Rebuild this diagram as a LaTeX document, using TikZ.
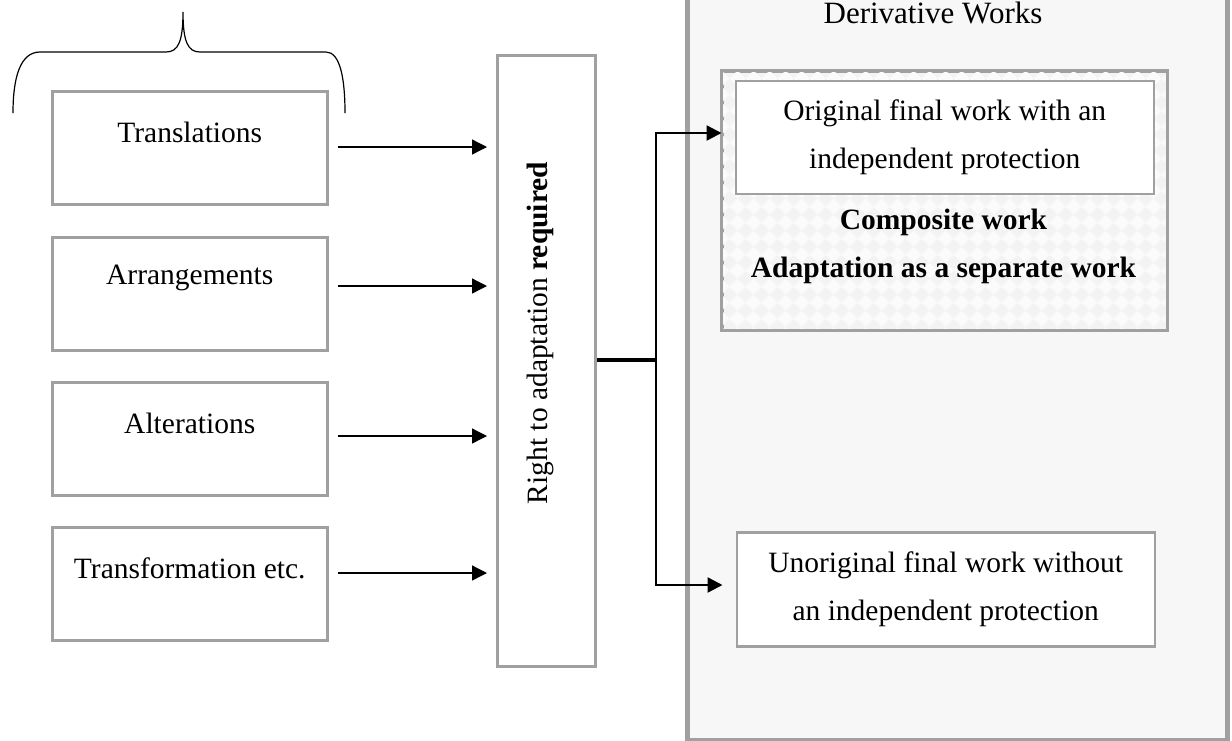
\documentclass[tikz,border=0pt]{standalone}
\usepackage{fontspec}
\setmainfont{Liberation Serif}
\usetikzlibrary{arrows.meta,calc}
\definecolor{boxgray}{HTML}{A0A0A0}
\definecolor{panelfill}{HTML}{F7F7F7}
\definecolor{diamA}{HTML}{F3F3F3}
\definecolor{diamB}{HTML}{FBFBFB}
\begin{document}
\begin{tikzpicture}[x=1pt,y=-1pt,
  txt/.style={font=\fontsize{29.5}{48}\selectfont, inner sep=0pt, align=center},
  bigtxt/.style={font=\fontsize{31}{48}\selectfont, inner sep=0pt, align=center},
  leftbox/.style={draw=boxgray, line width=2.5pt, fill=white, inner sep=0pt, anchor=north west, minimum width=275pt, minimum height=113pt},
  whitebox/.style={draw=boxgray, line width=2.5pt, fill=white, inner sep=0pt, anchor=north west},
  thinarr/.style={line width=1.3pt, -{Triangle[length=15pt,width=15pt]}},
  conn/.style={line width=2.4pt, -{Triangle[length=15pt,width=15pt]}},
  bracestyle/.style={line width=1.2pt}
]
\useasboundingbox (0,0) rectangle (1232,740);

% right panel
\node[draw=boxgray, line width=5pt, fill=panelfill, inner sep=0pt, anchor=north west,
      minimum width=540pt, minimum height=752pt] (panel) at (684.5,-14) {};
\node[bigtxt] (dtitle) at (933,13) {Derivative Works};

% composite box with diamond pattern
\node[draw=boxgray, line width=2.5pt, fill=diamA, inner sep=0pt, anchor=north west,
      minimum width=444pt, minimum height=258pt] (comp) at (721.5,70.5) {};
\begin{scope}
  \clip (721.5,70.5) rectangle (1165.5,328.5);
  \foreach \i in {0,...,28}{
    \foreach \j in {0,...,17}{
      \fill[diamB] ($(721.5,70.5)+(16*\i,16*\j)$) -- ++(8,8) -- ++(-8,8) -- ++(-8,-8) -- cycle;
    }
  }
\end{scope}
\draw[boxgray, line width=2.5pt] (comp.north west) rectangle (comp.south east);

\node[whitebox, minimum width=418pt, minimum height=113pt] (orig) at (734.5,79.5) {};
\node[txt] (origtxt) at (orig.center) {Original final work with an\\independent protection};
\node[txt, font=\fontsize{29.5}{48}\selectfont\bfseries] (comptxt) at (943.5,246.5) {Composite work\\Adaptation as a separate work};

\node[whitebox, minimum width=418pt, minimum height=114pt] (unor) at (735.5,531) {};
\node[txt] (unortxt) at (unor.center) {Unoriginal final work without\\an independent protection};

% left boxes
\node[leftbox] (b1) at (51,90) {};
\node[leftbox] (b2) at (51,236) {};
\node[leftbox] (b3) at (51,381) {};
\node[leftbox] (b4) at (51,526) {};
\node[txt] (t1) at ($(b1.north)+(0,42)$) {Translations};
\node[txt] (t2) at ($(b2.north)+(0,42)$) {Arrangements};
\node[txt] (t3) at ($(b3.north)+(0,42)$) {Alterations};
\node[txt] (t4) at ($(b4.north)+(0,42)$) {Transformation etc.};

% brace
\draw[bracestyle] (13,113) .. controls (13,78) and (20,52) .. (40,52) -- (166,52)
  .. controls (178,52) and (183,42) .. (183,12)
  .. controls (183,42) and (188,52) .. (200,52) -- (326,52)
  .. controls (340,52) and (345,78) .. (345,113);

% vertical box
\node[draw=boxgray, line width=2.5pt, fill=white, inner sep=0pt, anchor=north west,
      minimum width=98pt, minimum height=611pt] (rv) at (496,54) {};
\node[txt, rotate=90] (rvtxt) at (540,333) {Right to adaptation \textbf{required}};

% arrows from left boxes
\coordinate (s1) at (338,147);
\coordinate (s2) at (338,286);
\coordinate (s3) at (338,436);
\coordinate (s4) at (338,573);
\foreach \k in {1,2,3,4}{
  \draw[thinarr, shorten >=9pt] (s\k) -- (s\k -| rv.west);
}

% hub connectors
\coordinate (hub) at (656,360);
\draw[line width=3.8pt] (rv.east |- hub) -- (hub);
\draw[conn] (hub) |- (comp.west |- 0,133);
\draw[conn, shorten >=13pt] (hub) |- (unor.west |- 0,585);
\end{tikzpicture}
\end{document}
